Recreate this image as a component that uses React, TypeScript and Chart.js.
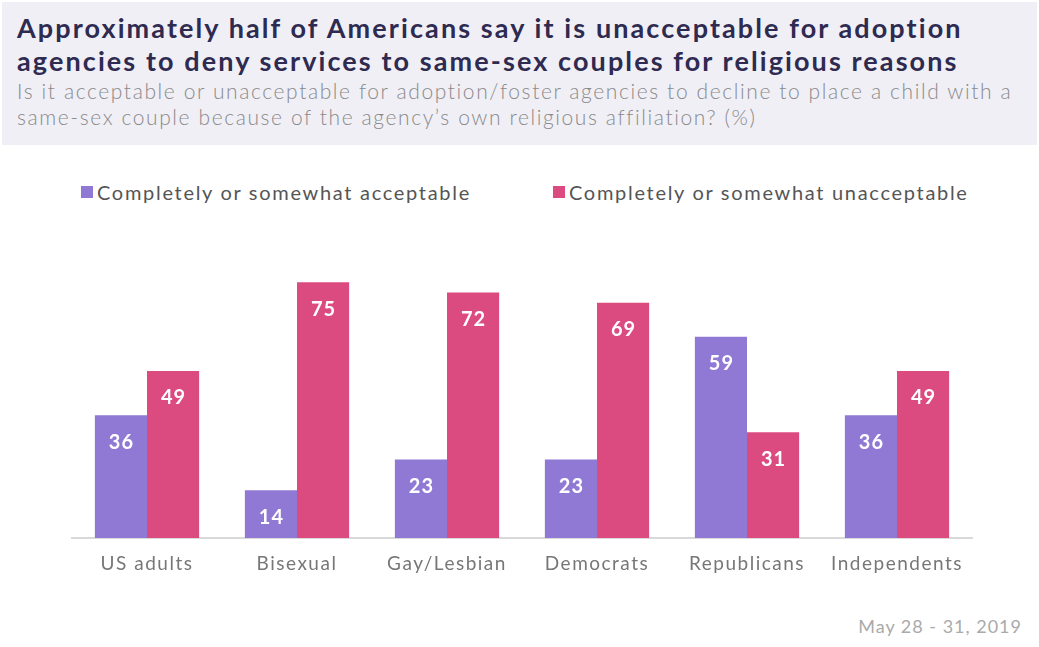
import React, { useEffect, useRef } from "react";
import { Chart, registerables } from "chart.js";

Chart.register(...registerables);

const categories = ["US adults", "Bisexual", "Gay/Lesbian", "Democrats", "Republicans", "Independents"];
const acceptable = [36, 14, 23, 23, 59, 36];
const unacceptable = [49, 75, 72, 69, 31, 49];
const seriesNames = ["Completely or somewhat acceptable", "Completely or somewhat unacceptable"];
const titleLines = [
  "Approximately half of Americans say it is unacceptable for adoption",
  "agencies to deny services to same-sex couples for religious reasons",
];
const subtitleLines = [
  "Is it acceptable or unacceptable for adoption/foster agencies to decline to place a child with a",
  "same-sex couple because of the agency’s own religious affiliation? (%)",
];
const dateLabel = "May 28 - 31, 2019";

const PURPLE = "#9079d5";
const PINK = "#dc4b80";
const FONT = "Lato, 'Open Sans', sans-serif";

const spacing = {
  id: "spacing",
  beforeDraw(chart: any) {
    chart.ctx.letterSpacing = "1.5px";
  },
};

const valueLabels = {
  id: "valueLabels",
  afterDatasetsDraw(chart: any) {
    const ctx = chart.ctx;
    ctx.save();
    ctx.letterSpacing = "1px";
    ctx.fillStyle = "#ffffff";
    ctx.font = `bold 20px ${FONT}`;
    ctx.textAlign = "center";
    ctx.textBaseline = "middle";
    chart.data.datasets.forEach((ds: any, i: number) => {
      const meta = chart.getDatasetMeta(i);
      meta.data.forEach((bar: any, j: number) => {
        ctx.fillText(String(ds.data[j]), bar.x + 0.5, bar.y + 27);
      });
    });
    ctx.restore();
  },
};

export default function App() {
  const ref = useRef<HTMLCanvasElement>(null);

  useEffect(() => {
    const chart = new Chart(ref.current!, {
      type: "bar",
      data: {
        labels: categories,
        datasets: [
          { label: seriesNames[0], data: acceptable, backgroundColor: PURPLE },
          { label: seriesNames[1], data: unacceptable, backgroundColor: PINK },
        ],
      },
      options: {
        animation: false,
        responsive: false,
        maintainAspectRatio: false,
        layout: { padding: { left: 72, right: 67, top: 47, bottom: 0 } },
        datasets: { bar: { categoryPercentage: 0.695, barPercentage: 1 } },
        plugins: {
          legend: { display: false },
          title: { display: false },
          tooltip: { enabled: false },
        },
        scales: {
          x: {
            grid: { display: false, drawTicks: false },
            border: { display: true, color: "#d9d9d9", width: 2 },
            ticks: { color: "#777777", font: { family: FONT, size: 19 }, padding: 14 },
            afterFit: (s: any) => {
              s.height = 62;
            },
          },
          y: {
            display: false,
            min: 0,
            max: 100,
          },
        },
      },
      plugins: [spacing, valueLabels],
    });
    return () => chart.destroy();
  }, []);

  return (
    <div
      style={{
        position: "fixed",
        left: 0,
        top: 0,
        width: 1039,
        height: 647,
        background: "#ffffff",
        fontFamily: FONT,
        overflow: "hidden",
      }}
    >
      <div
        style={{
          position: "absolute",
          left: 2,
          top: 2,
          width: 1035,
          height: 143,
          background: "#f0eff6",
        }}
      />
      {titleLines.map((t, i) => (
        <div
          key={"t" + i}
          style={{
            position: "absolute",
            left: 17,
            top: 11 + i * 33,
            fontSize: 27,
            fontWeight: 700,
            color: "#2e2a50",
            whiteSpace: "nowrap",
            lineHeight: "34px",
            letterSpacing: "2.1px",
          }}
        >
          {t}
        </div>
      ))}
      {subtitleLines.map((t, i) => (
        <div
          key={"s" + i}
          style={{
            position: "absolute",
            left: 17,
            top: 78 + i * 26,
            fontSize: 21,
            fontWeight: 300,
            color: "#8a8a8a",
            whiteSpace: "nowrap",
            lineHeight: "26px",
            letterSpacing: "1.6px",
          }}
        >
          {t}
        </div>
      ))}
      {[0, 1].map((i) => (
        <div
          key={"l" + i}
          style={{
            position: "absolute",
            left: i === 0 ? 81 : 553,
            top: 180,
            height: 24,
            display: "flex",
            alignItems: "center",
            whiteSpace: "nowrap",
          }}
        >
          <span
            style={{
              display: "inline-block",
              width: 12,
              height: 12,
              background: i === 0 ? PURPLE : PINK,
              marginRight: 4,
            }}
          />
          <span style={{ fontSize: 20, color: "#555555", letterSpacing: "1.7px" }}>{seriesNames[i]}</span>
        </div>
      ))}
      <canvas
        ref={ref}
        width={1039}
        height={450}
        style={{ position: "absolute", left: 0, top: 150, width: 1039, height: 450 }}
      />
      <div
        style={{
          position: "absolute",
          right: 17,
          top: 614,
          fontSize: 18,
          color: "#aaaaaa",
          whiteSpace: "nowrap",
          lineHeight: "24px",
          letterSpacing: "1px",
        }}
      >
        {dateLabel}
      </div>
    </div>
  );
}
